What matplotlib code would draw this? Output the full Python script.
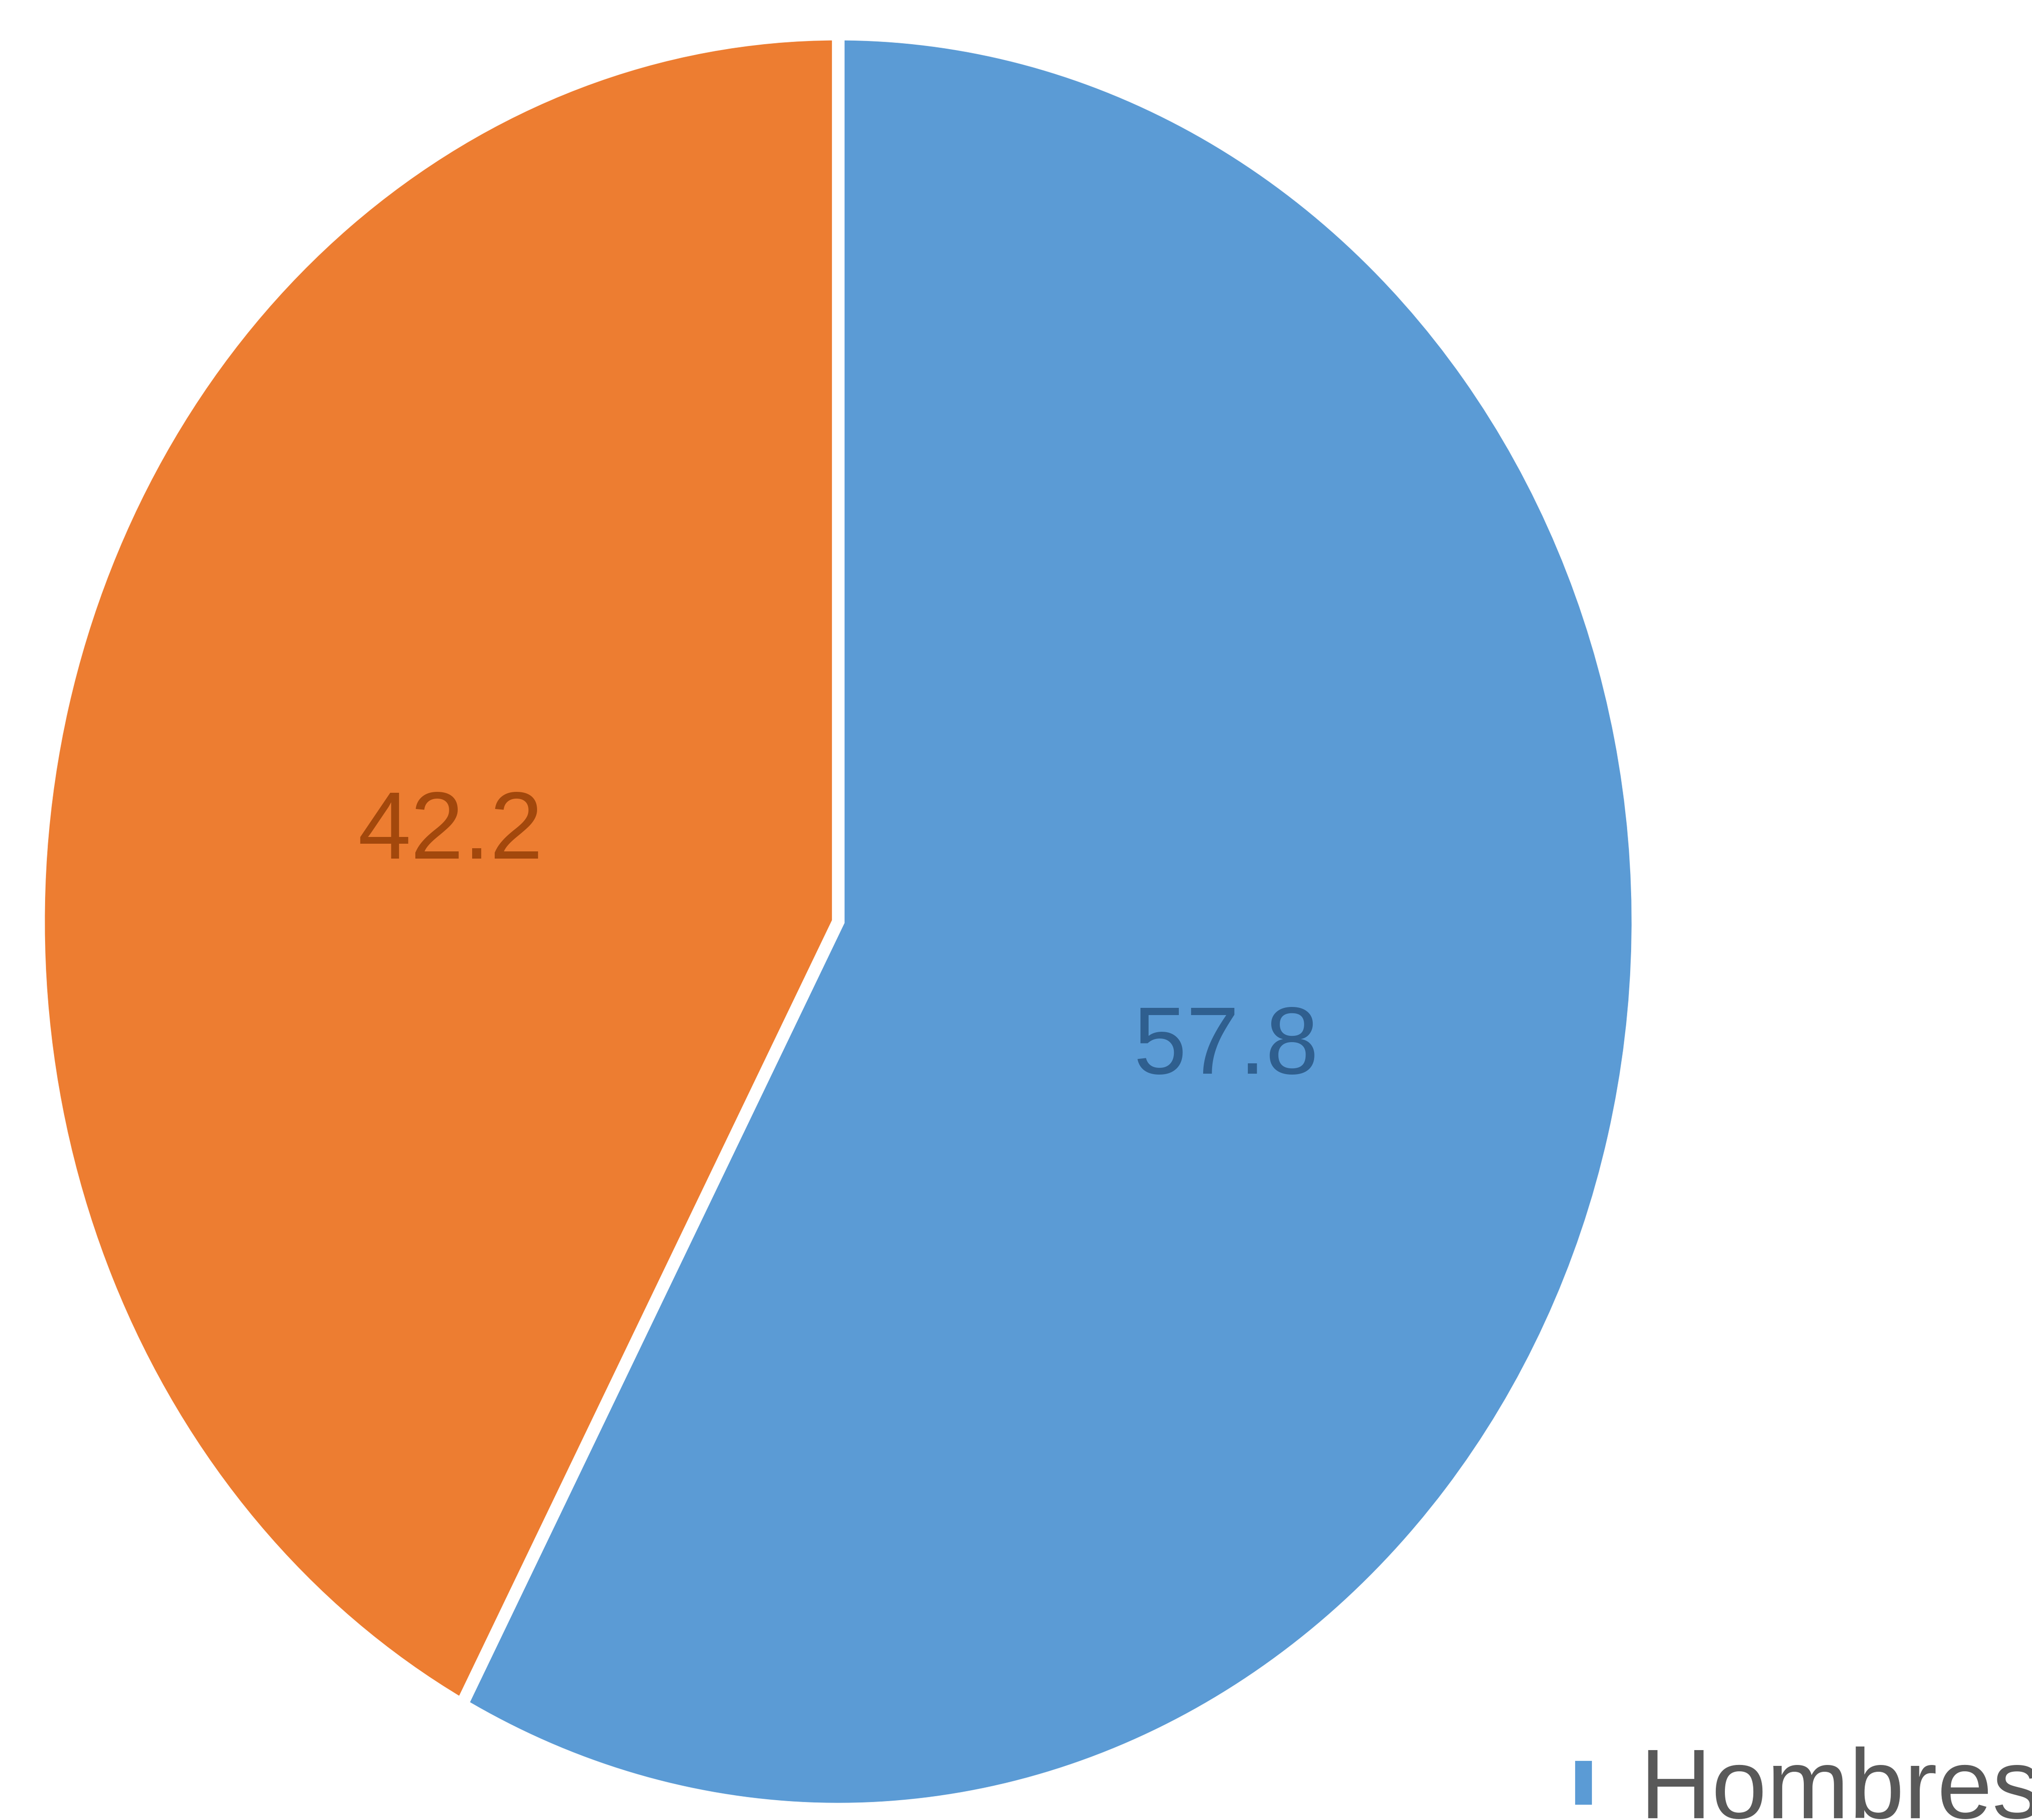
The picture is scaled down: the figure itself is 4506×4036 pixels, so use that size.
import matplotlib.pyplot as plt

# Data
categories = ['Hombres', 'Mujeres']
values = [57.8, 42.2]
colors = ['#5B9BD5', '#ED7D31']
label_colors = ['#2F5F8F', '#A3480C']

plt.rcParams['font.family'] = ['Liberation Sans', 'DejaVu Sans']

fig = plt.figure(figsize=(45.06, 40.37), dpi=100)
# pie is stretched vertically in the reference, so no equal aspect
ax = fig.add_axes([0.019, 0.006, 0.787, 0.975])

wedges, texts, autotexts = ax.pie(
    values, colors=colors, startangle=90, counterclock=False,
    autopct='%.1f', pctdistance=0.5,
    wedgeprops=dict(edgecolor='white', linewidth=20),
    textprops=dict(fontsize=152))
for t, c in zip(autotexts, label_colors):
    t.set_color(c)
    x, y = t.get_position()
    t.set_position((x, y - 0.022))

ax.set_aspect('auto')
ax.set_xlim(-1.0, 1.0)
ax.set_ylim(-1.0, 1.0)
ax.axis('off')

# only the first legend entry is inside the frame in the reference
fig.legend(wedges[:1], categories[:1], loc='lower left',
           bbox_to_anchor=(0.772, -0.010), frameon=False,
           fontsize=158, labelcolor='#595959', borderpad=0, borderaxespad=0,
           handlelength=0.3, handleheight=0.5, handletextpad=0.42)

fig.savefig('out.png', dpi=100, facecolor='white')
